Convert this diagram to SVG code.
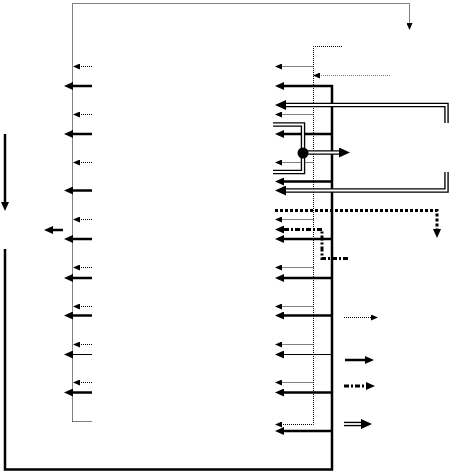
<svg xmlns="http://www.w3.org/2000/svg" width="450" height="472" viewBox="0 0 450 472">
<style>
.dot{fill:none;stroke:#000;stroke-width:1;stroke-dasharray:1,1}
.grey{fill:none;stroke:#777;stroke-width:1;stroke-dasharray:1,1}
.sol{fill:none;stroke:#000;stroke-width:2.5}
.thin{fill:none;stroke:#000;stroke-width:1}
.thick{fill:none;stroke:#000;stroke-width:2.5;stroke-linejoin:miter}
.tdot{fill:none;stroke:#000;stroke-width:3;stroke-dasharray:3,2}
.dd{fill:none;stroke:#000;stroke-width:3;stroke-dasharray:5,2,2,2}
.dbl{fill:none;stroke:#000;stroke-width:4.5;stroke-linejoin:miter}
.dbw{fill:none;stroke:#fff;stroke-width:1.8;stroke-linejoin:miter}
.ma{marker-end:url(#mD)}
.ms{marker-end:url(#mS)}
</style>
<defs>
<marker id="mD" markerUnits="userSpaceOnUse" markerWidth="7" markerHeight="6" refX="0" refY="3" orient="auto"><path d="M0,0 L7,3 L0,6 z" fill="#000"/></marker>
<marker id="mS" markerUnits="userSpaceOnUse" markerWidth="9" markerHeight="8" refX="0" refY="4" orient="auto"><path d="M0,0 L9,4 L0,8 z" fill="#000"/></marker>
<marker id="mB" markerUnits="userSpaceOnUse" markerWidth="11" markerHeight="10" refX="0" refY="5" orient="auto"><path d="M0,0 L11,5 L0,10 z" fill="#000"/></marker>
</defs>
<rect width="450" height="472" fill="#fff"/>
<g id="connectors">
<path class="dot ma" d="M72.5,421.5 V3.5 H409.5 V23"/>
<path class="dot" d="M72.5,421.5 H92"/>
<path class="dot ma" d="M92,66.5 H80"/>
<path class="dot ma" d="M92,114.5 H80"/>
<path class="dot ma" d="M92,162.5 H80"/>
<path class="dot ma" d="M92,219.5 H80"/>
<path class="dot ma" d="M92,267.5 H80"/>
<path class="dot ma" d="M92,306.5 H80"/>
<path class="dot ma" d="M92,344.5 H80"/>
<path class="dot ma" d="M92,382.5 H80"/>
<path class="sol ms" d="M92,86 H73"/>
<path class="sol ms" d="M92,134 H73"/>
<path class="sol ms" d="M92,190.5 H73"/>
<path class="sol ms" d="M92,239 H73"/>
<path class="sol ms" d="M92,278 H73"/>
<path class="sol ms" d="M92,315.5 H73"/>
<path class="thin ms" d="M92,354.5 H73"/>
<path class="sol ms" d="M92,392.5 H73"/>
<path class="sol ms" d="M5,134 V202"/>
<path class="sol ms" d="M63,230 H53"/>
<path class="thick ms" d="M5,249 V469.5 H332 V86 H284"/>
<path class="dot ma" d="M342,46.5 H313.5 V424.5 H282"/>
<path class="grey ma" d="M390,75.5 H320"/>
<path class="dot ma" d="M313.5,66.5 H282"/>
<path class="dot ma" d="M313.5,114.5 H282"/>
<path class="dot ma" d="M313.5,162.5 H282"/>
<path class="dot ma" d="M313.5,219.5 H282"/>
<path class="dot ma" d="M313.5,267.5 H282"/>
<path class="dot ma" d="M313.5,306.5 H282"/>
<path class="dot ma" d="M313.5,344.5 H282"/>
<path class="dot ma" d="M313.5,382.5 H282"/>
<path class="sol ms" d="M332,134 H284"/>
<path class="sol ms" d="M332,181.5 H284"/>
<path class="sol ms" d="M332,239 H284"/>
<path class="sol ms" d="M332,278 H284"/>
<path class="sol ms" d="M332,315.5 H284"/>
<path class="thin ms" d="M332,354.5 H284"/>
<path class="sol ms" d="M332,392.5 H284"/>
<path class="sol ms" d="M332,431 H284"/>
<path class="dbl" d="M446.5,123 V105 H286" marker-end="url(#mB)"/>
<path class="dbw" d="M446.5,123 V105 H286"/>
<path class="dbl" d="M446.5,172 V190.5 H286" marker-end="url(#mB)"/>
<path class="dbw" d="M446.5,172 V190.5 H286"/>
<path class="dbl" d="M273,124.5 H303 V172 H273"/>
<path class="dbw" d="M273,124.5 H303 V172 H273"/>
<path class="dbl" d="M303,152.5 H339" marker-end="url(#mB)"/>
<path class="dbw" d="M303,152.5 H339"/>
<circle cx="303" cy="153" r="5.5" fill="#000"/>
<path class="tdot ms" d="M275,210.5 H437 V229"/>
<path class="dd ms" d="M348,258.5 H322 V229.5 H284"/>
</g>
<g id="legend">
<path class="dot ma" d="M344,317.5 H371"/>
<path class="sol ms" d="M345,360 H365"/>
<path class="dd ms" d="M344,386 H366"/>
<path class="dbl" d="M344,424 H361" marker-end="url(#mB)"/>
<path class="dbw" d="M344,424 H361"/>
</g>
</svg>
